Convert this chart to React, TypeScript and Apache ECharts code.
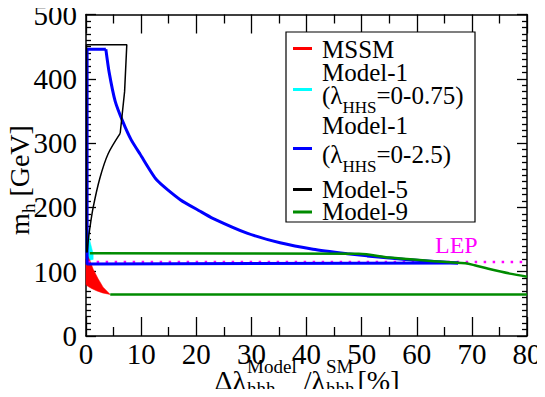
import React, { useEffect, useRef } from "react";
import * as echarts from "echarts";

// ---------- data (x: Δλ/λ [%], y: m_h [GeV]) ----------
const mssmRegion: number[][] = [
  [0, 129], [0.4, 123], [0.9, 113], [1.3, 104], [2.2, 89], [3.1, 76], [4.4, 64.5],
  [3.0, 67], [2.0, 70], [1.0, 74], [0.2, 78], [0, 80],
];
const model1SmallRegion: number[][] = [
  [0, 165], [0.35, 165], [0.7, 148], [1.3, 128], [1.3, 119], [0.5, 118], [0, 120],
];
const model1Edge: number[][] = [[0.4, 112], [0.2, 112], [0.2, 446], [3.6, 446]];
const model1Curve: number[][] = [
  [3.6, 446], [4.2, 410], [5.3, 365], [6.7, 333], [8.2, 305], [9.8, 283], [12.8, 243],
  [17.1, 212], [20.7, 194], [23, 183], [29.2, 160], [35.2, 145], [41.2, 135],
  [47.4, 128], [51, 124.6], [58, 119], [67.5, 113.4],
];
const model1Bottom: number[][] = [[67.5, 113.4], [0.4, 112]];
const model5Edge: number[][] = [[0.1, 130], [0.1, 453], [7.4, 453], [7.0, 380], [6.2, 315]];
const model5Curve: number[][] = [
  [6.2, 315], [4.0, 283], [2.5, 245], [1.3, 200], [0.7, 168], [0.4, 148], [0.2, 130],
];
const model9Upper: number[][] = [
  [0.7, 128.5], [49.5, 128], [55, 122], [62, 117], [68.8, 113], [70.5, 110], [73, 104.5],
  [76.9, 97], [80, 92.3],
];
const model9Lower: number[][] = [[4.4, 64.5], [80, 64.5]];
const lepBound: number[][] = [[0.3, 115], [80, 115]];

const legendNames = ["MSSM", "Model-1", "Model-1", "Model-5", "Model-9"];

const FONT = "'Liberation Serif', 'Times New Roman', Times, serif";
const RED = "#ff0000";
const CYAN = "#00ffff";
const BLUE = "#0000ff";
const BLACK = "#000000";
const GREEN = "rgb(0,139,0)";
const MAGENTA = "#ff00ff";

let measureCtx: CanvasRenderingContext2D | null = null;
function tw(s: string, size: number): number {
  if (!measureCtx) measureCtx = document.createElement("canvas").getContext("2d");
  if (!measureCtx) return s.length * size * 0.5;
  measureCtx.font = `${size}px ${FONT}`;
  return measureCtx.measureText(s).width;
}

function txt(text: string, x: number, y: number, size: number, fill = "#000") {
  return {
    type: "text",
    x,
    y,
    silent: true,
    style: { text, fontSize: size, fontFamily: FONT, fill, align: "left", verticalAlign: "middle" },
  };
}

function polygonSeries(points: number[][], color: string) {
  return {
    type: "custom",
    coordinateSystem: "cartesian2d",
    data: points,
    silent: true,
    renderItem: (params: any, api: any) => {
      if (params.dataIndex !== 0) return null;
      const pts = points.map((p) => api.coord(p));
      return { type: "polygon", shape: { points: pts }, style: { fill: color, stroke: color, lineWidth: 0.5 } };
    },
    z: 2,
  };
}

function lineSeries(name: string, data: number[][], color: string, width: number, extra: any = {}) {
  return {
    name,
    type: "line",
    data,
    symbol: "none",
    silent: true,
    smooth: extra.smooth ?? false,
    lineStyle: { color, width, ...(extra.lineStyle || {}) },
    z: extra.z ?? 3,
  };
}

function buildGraphics() {
  const g: any[] = [];
  // legend box
  g.push({
    type: "rect",
    silent: true,
    shape: { x: 286, y: 32, width: 189, height: 190 },
    style: { fill: "#fff", stroke: "#000", lineWidth: 1.2 },
    z: 10,
  });
  const mk = (y: number, color: string) => ({
    type: "line",
    silent: true,
    shape: { x1: 293, y1: y, x2: 312, y2: y },
    style: { stroke: color, lineWidth: 3 },
    z: 11,
  });
  g.push(mk(48.5, RED), mk(89.5, CYAN), mk(148.5, BLUE), mk(189.5, BLACK), mk(212, GREEN));
  const LX = 322, LS = 25, SS = 17;
  const items: any[] = [];
  items.push(txt(legendNames[0], LX, 49, LS));
  items.push(txt(legendNames[1], LX, 72.5, LS));
  const sub = (y: number, val: string) => {
    const a = "(λ";
    const w1 = tw(a, LS);
    const w2 = tw("HHS", SS);
    items.push(txt(a, LX, y, LS));
    items.push(txt("HHS", LX + w1, y + 12, SS));
    items.push(txt(val, LX + w1 + w2, y, LS));
  };
  sub(95, "=0-0.75)");
  items.push(txt(legendNames[2], LX, 125.5, LS));
  sub(154, "=0-2.5)");
  items.push(txt(legendNames[3], LX, 189.5, LS));
  items.push(txt(legendNames[4], LX, 211, LS));
  items.forEach((it) => (it.z = 12));
  g.push(...items);

  // LEP label
  g.push({ ...txt("LEP", 435, 245, 24, MAGENTA), z: 12 });

  // x-axis title
  const M = 28, S = 19;
  const wA = tw("Δλ", M);
  const wB = Math.max(tw("Model", S), tw("hhh", S));
  const wC = tw("/λ", M);
  const wD = Math.max(tw("SM", S), tw("hhh", S));
  const wE = tw("[%]", M);
  const gap1 = 7, gap2 = 3;
  const total = wA + 1 + wB + gap1 + wC + 1 + wD + gap2 + wE;
  let x = 307 - total / 2;
  const cy = 380;
  g.push(txt("Δλ", x, cy, M));
  x += wA + 1;
  g.push(txt("Model", x, cy - 14, S));
  g.push(txt("hhh", x, cy + 8, S));
  x += wB + gap1;
  g.push(txt("/λ", x, cy, M));
  x += wC + 1;
  g.push(txt("SM", x, cy - 14, S));
  g.push(txt("hhh", x, cy + 8, S));
  x += wD + gap2;
  g.push(txt("[%]", x, cy, M));

  // y-axis title (rotated)
  const wm = tw("m", M), wh = tw("h", S), wg = tw(" [GeV]", M);
  const ytotal = wm + wh + wg;
  g.push({
    type: "group",
    x: 19,
    y: 180 + ytotal / 2,
    rotation: Math.PI / 2,
    silent: true,
    children: [txt("m", 0, 0, M), txt("h", wm, 9, S), txt(" [GeV]", wm + wh, 0, M)],
  });
  return g;
}

export default function App() {
  const ref = useRef<HTMLDivElement>(null);
  useEffect(() => {
    if (!ref.current) return;
    const chart = echarts.init(ref.current, undefined, { renderer: "svg" });
    const axisLineStyle = { color: "#000", width: 1.5 };
    const xCommon = {
      type: "value",
      min: 0,
      max: 80,
      interval: 10,
      splitLine: { show: false },
      axisLine: { show: true, onZero: false, lineStyle: axisLineStyle },
      axisTick: { show: true, inside: true, length: 19, lineStyle: { color: "#000", width: 1.3 } },
      minorTick: { show: true, splitNumber: 2, length: 9, lineStyle: { color: "#000", width: 1.3 } },
    };
    const yCommon = {
      type: "value",
      min: 0,
      max: 500,
      interval: 100,
      splitLine: { show: false },
      axisLine: { show: true, onZero: false, lineStyle: axisLineStyle },
      axisTick: { show: true, inside: true, length: 10, lineStyle: { color: "#000", width: 1.3 } },
      minorTick: { show: true, splitNumber: 10, length: 5, lineStyle: { color: "#000", width: 1.3 } },
    };
    const option: any = {
      animation: false,
      backgroundColor: "#fff",
      grid: { left: 86, right: 18, top: 11, bottom: 61, containLabel: false },
      xAxis: [
        {
          ...xCommon,
          position: "bottom",
          axisLabel: { show: true, fontFamily: FONT, fontSize: 29, color: "#000", margin: 3 },
        },
        { ...xCommon, position: "top", axisLabel: { show: false } },
      ],
      yAxis: [
        {
          ...yCommon,
          position: "left",
          axisLabel: { show: true, fontFamily: FONT, fontSize: 29, color: "#000", margin: 9 },
        },
        { ...yCommon, position: "right", axisLabel: { show: false } },
      ],
      series: [
        polygonSeries(model1SmallRegion, CYAN),
        polygonSeries(mssmRegion, RED),
        lineSeries("LEP", lepBound, MAGENTA, 2.5, { lineStyle: { type: [2.5, 6.5] }, z: 3 }),
        lineSeries("Model-1 edge", model1Edge, BLUE, 3, { z: 4 }),
        lineSeries("Model-1 curve", model1Curve, BLUE, 3, { z: 4, smooth: 0.2 }),
        lineSeries("Model-1 bottom", model1Bottom, BLUE, 3, { z: 4 }),
        lineSeries("Model-9 a", model9Upper, GREEN, 2.5, { z: 5, smooth: 0.3 }),
        lineSeries("Model-9 b", model9Lower, GREEN, 2.5, { z: 5 }),
        lineSeries("Model-5 edge", model5Edge, BLACK, 1.5, { z: 6 }),
        lineSeries("Model-5 curve", model5Curve, BLACK, 1.5, { z: 6, smooth: 0.3 }),
      ],
      graphic: buildGraphics(),
    };
    chart.setOption(option);
    return () => chart.dispose();
  }, []);
  return <div ref={ref} style={{ width: 545, height: 397, margin: -8 }} />;
}
